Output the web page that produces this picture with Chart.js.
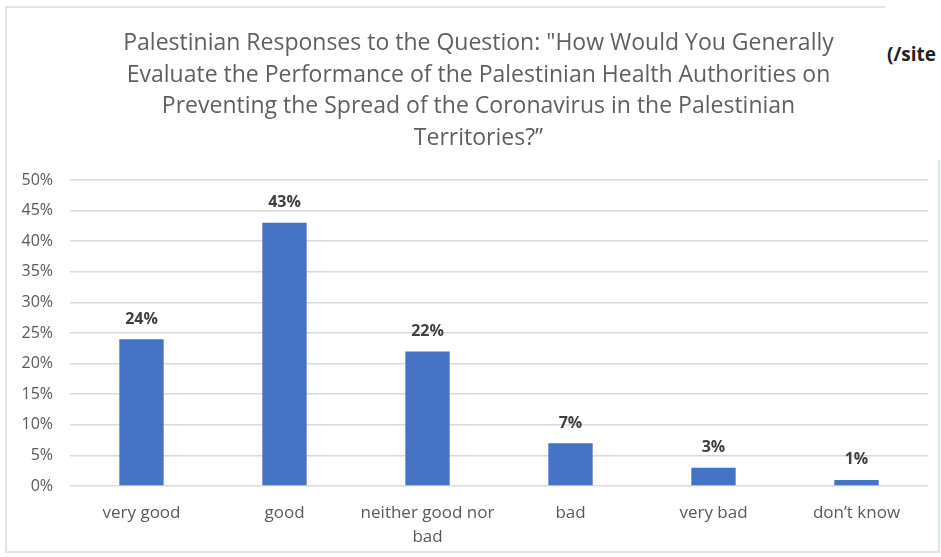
<!DOCTYPE html>
<html>
<head>
<meta charset="utf-8">
<script src="https://cdn.jsdelivr.net/npm/chart.js@4"></script>
<style>
    body { margin: 0; background: #fff; width: 941px; height: 557px; overflow: hidden; position: relative; font-family: "Open Sans", sans-serif; }
    #frame { position: absolute; left: 5px; top: 6px; width: 931px; height: 543px; border: 2px solid #dde4ea; }
    #wrap { position: absolute; left: 5px; top: 6px; width: 935px; height: 549px; }
    #corner { position: absolute; left: 885px; top: 0; width: 56px; height: 160px; background: #fff; overflow: hidden; }
    #corner span { position: absolute; left: 2px; top: 41px; font-weight: bold; font-size: 19px; color: #222; white-space: nowrap; }
</style>
</head>
<body>
<div id="frame"></div>
<div id="wrap"><canvas id="responsesChart"></canvas></div>
<div id="corner"><span>(/site</span></div>

<script>
let categories = ["very good", "good", ["neither good nor", "bad"], "bad", "very bad", "don’t know"];
let responses = [24, 43, 22, 7, 3, 1];
let yTicks = [0, 5, 10, 15, 20, 25, 30, 35, 40, 45, 50];
let titleLines = [
    "Palestinian Responses to the Question: \"How Would You Generally",
    "Evaluate the Performance of the Palestinian Health Authorities on",
    "Preventing the Spread of the Coronavirus in the Palestinian",
    "Territories?”"
];

// value labels above each bar
const barLabels = {
    id: "barLabels",
    afterDatasetsDraw(chart) {
        let ctx = chart.ctx;
        let meta = chart.getDatasetMeta(0);
        ctx.save();
        ctx.font = "bold 16px 'Open Sans'";
        ctx.fillStyle = "#404040";
        ctx.textAlign = "center";
        ctx.textBaseline = "bottom";
        meta.data.forEach(function(bar, i) {
            ctx.fillText(chart.data.datasets[0].data[i] + "%", bar.x, bar.y - 12);
        });
        ctx.restore();
    }
};

// nudge the title a little to the right of the default centre
const titleShift = {
    id: "titleShift",
    afterLayout(chart) {
        if (chart.titleBlock) {
            chart.titleBlock.left += 5;
            chart.titleBlock.right += 5;
        }
    }
};

let ctx = document.getElementById("responsesChart").getContext("2d");
let chart = new Chart(ctx, {
    type: "bar",
    data: {
        labels: categories,
        datasets: [{
            data: responses,
            backgroundColor: "#4472c4",
            borderWidth: 0,
            categoryPercentage: 1,
            barPercentage: 0.31
        }]
    },
    options: {
        responsive: true,
        maintainAspectRatio: false,
        animation: false,
        layout: { padding: { left: 14, right: 12, top: 0, bottom: 0 } },
        plugins: {
            legend: { display: false },
            tooltip: { enabled: false },
            title: {
                display: true,
                text: titleLines,
                color: "#5f5f5f",
                font: { family: "'Open Sans'", size: 23, weight: "normal", lineHeight: 1.37 },
                padding: { top: 22, bottom: 26 }
            }
        },
        scales: {
            x: {
                afterFit: function(scale) { scale.height = 69; },
                grid: { display: false, drawTicks: false },
                border: { display: false },
                ticks: {
                    color: "#595959",
                    font: { family: "'Open Sans'", size: 17, lineHeight: 1.41 },
                    padding: 15,
                    maxRotation: 0,
                    autoSkip: false
                }
            },
            y: {
                min: 0,
                max: 50,
                afterFit: function(scale) { scale.width = 51; },
                afterBuildTicks: function(scale) {
                    scale.ticks = yTicks.map(function(v) { return { value: v }; });
                },
                grid: { color: "#d9d9d9", lineWidth: 1.5, drawTicks: false },
                border: { display: false },
                ticks: {
                    color: "#595959",
                    font: { family: "'Open Sans'", size: 16 },
                    padding: 17,
                    callback: function(v) { return v + "%"; }
                }
            }
        }
    },
    plugins: [barLabels, titleShift]
});
</script>
</body>
</html>
